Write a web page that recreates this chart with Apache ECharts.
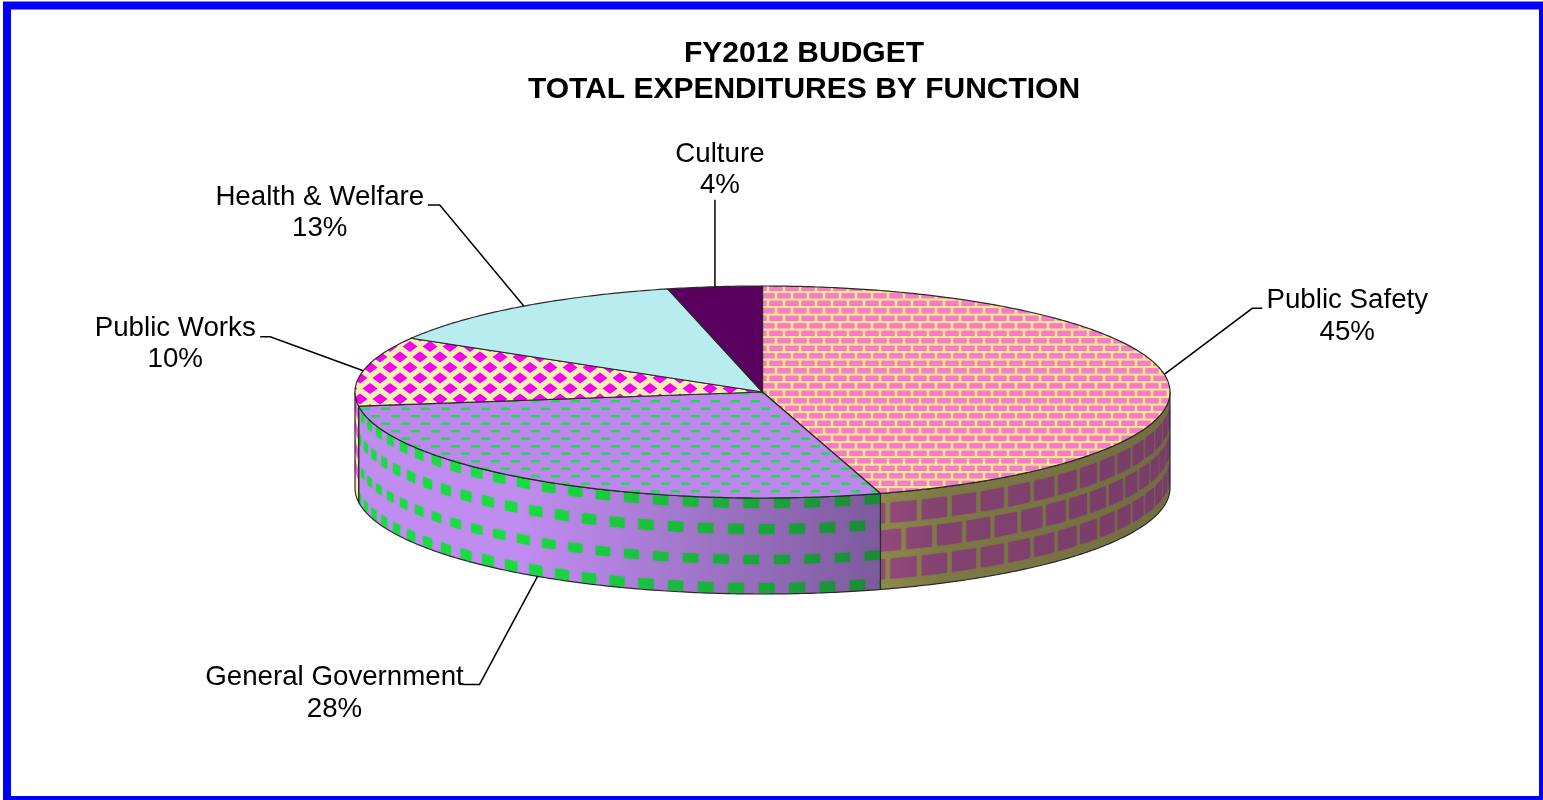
<!DOCTYPE html>
<html>
<head>
<meta charset="utf-8">
<title>FY2012 Budget</title>
<style>html,body{margin:0;padding:0;background:#fff}#chart{width:1543px;height:800px}</style>
<script src="https://cdn.jsdelivr.net/npm/echarts@6/dist/echarts.min.js"></script>
</head>
<body>
<div id="chart"></div>
<script>
// Budget shares by function, in percent, clockwise from twelve o'clock.
const categories = ['Public Safety', 'General Government', 'Public Works', 'Health & Welfare', 'Culture'];
const shares = [45, 28, 10, 13, 4];
const titleLines = ['FY2012 BUDGET', 'TOTAL EXPENDITURES BY FUNCTION'];

const FONT = '"Liberation Sans", Arial, sans-serif';
const DEG = Math.PI / 180;
const DEPTH_PX = 96;
const RIM = '#2a2a2a';

// Small repeating canvases used as pattern fills on the top face; edges are slightly soft.
function tile(w, h, back, fore, draw) {
  const c = document.createElement('canvas');
  c.width = w; c.height = h;
  const g = c.getContext('2d');
  g.fillStyle = back; g.fillRect(0, 0, w, h);
  g.filter = 'blur(0.55px)';
  g.fillStyle = fore;
  for (let ox = -w; ox <= w; ox += w) {
    for (let oy = -h; oy <= h; oy += h) draw(g, ox, oy);
  }
  return { image: c, repeat: 'repeat' };
}
const brickTile = tile(16, 15, '#FFE58C', '#F57CC8', (g, x, y) => {
  g.fillRect(x + 1.3, y + 0.6, 13.4, 5.4);
  g.fillRect(x - 6.7, y + 8.1, 13.4, 5.4);
});
const dashTile = tile(20, 15, '#BE86EE', '#18E04A', (g, x, y) => {
  g.fillRect(x + 1, y + 2.5, 9, 2.4);
  g.fillRect(x + 11, y + 10, 9, 2.4);
});
const diamondTile = tile(20, 21, '#F4F0B4', '#F600F0', (g, x, y) => {
  [[0, 0], [10, 10.5]].forEach(p => {
    g.beginPath();
    g.moveTo(x + p[0] - 7.5, y + p[1]);
    g.lineTo(x + p[0], y + p[1] - 5.5);
    g.lineTo(x + p[0] + 7.5, y + p[1]);
    g.lineTo(x + p[0], y + p[1] + 5.5);
    g.closePath(); g.fill();
  });
});

const topFills = [brickTile, dashTile, diamondTile, '#B9ECEE', '#5A005E'];
const sideBase = ['#DEE060', '#C08CF0', '#F4F0B4', '#B9ECEE', '#5A005E'];

// Cells wrapped around the rim: angular period (radians), depth span of each row, stagger.
const sideCells = {
  0: { color: '#E870B8', period: 0.082, width: 0.068, rows: [[10, 30, 0], [37, 58, 0.5], [66, 86, 0]], seamPhase: -0.012 },
  1: { color: '#18DC40', period: 0.075, width: 0.038, rows: [[0, 10, 0], [26, 36, 0.5], [57, 66, 0], [85, 95, 0.5]], seamPhase: 0.002 },
  2: { color: '#F060E0', period: 1, width: 1, rows: [[4, 14, 0], [24, 34, 0], [44, 54, 0], [64, 74, 0]], seamPhase: 0 }
};

// Offsets of the leader elbow, leader end and label block from each slice's rim anchor.
const labelLayout = [
  { elbow: [88, -66], end: [98, -66], text: [183, -58], nudge: 0, front: false },
  { elbow: [-58, 108], end: [-75, 108], text: [-203, 117], nudge: 3, front: true },
  { elbow: [-93, -34], end: [-103, -34], text: [-188, -27], nudge: 0, front: false },
  { elbow: [-84, -101], end: [-96, -101], text: [-204, -93], nudge: 0, front: false },
  { elbow: [0, -87], end: [0, -87], text: [5, -117], nudge: 0, front: false }
];

// The disc is drawn at a slant, so an even circle angle lands slightly off on the ellipse.
const project = deg => deg - 2 * Math.sin(2 * deg * DEG);

const total = shares.reduce((a, b) => a + b, 0);
const edges = [0];
shares.forEach(v => edges.push(edges[edges.length - 1] + v / total * 360));
const startOf = i => project(edges[i]) * DEG;
const endOf = i => project(edges[i + 1]) * DEG;

function rimPoint(api, theta, depth) {
  const p = api.coord([Math.sin(theta), Math.cos(theta)]);
  return [p[0], p[1] + depth];
}
function rimArc(api, t0, t1, depth) {
  const n = Math.max(2, Math.ceil(Math.abs(t1 - t0) / (0.6 * DEG)));
  const out = [];
  for (let k = 0; k <= n; k++) out.push(rimPoint(api, t0 + (t1 - t0) * k / n, depth));
  return out;
}
function band(api, t0, t1, d0, d1) {
  return rimArc(api, t0, t1, d0).concat(rimArc(api, t0, t1, d1).reverse());
}

// Rim of one slice: base, wrapped cells, shading towards the right, outline.
function renderSide(params, api) {
  const i = params.dataIndex;
  const t0 = Math.max(startOf(i), 90 * DEG);
  const t1 = Math.min(endOf(i), 270 * DEG);
  if (t1 <= t0) return { type: 'group', children: [] };
  const children = [{
    type: 'polygon', shape: { points: band(api, t0, t1, 0, DEPTH_PX) },
    style: { fill: sideBase[i] }
  }];
  const cells = sideCells[i];
  if (cells) {
    const seam = endOf(0);
    cells.rows.forEach(row => {
      const shift = row[2] * cells.period + cells.seamPhase;
      for (let k = -40; k <= 40; k++) {
        const a = Math.max(seam + shift + k * cells.period, t0);
        const b = Math.min(seam + shift + k * cells.period + cells.width, t1);
        if (b - a > 0.002) {
          children.push({
            type: 'polygon', shape: { points: band(api, a, b, row[0], row[1]) },
            style: { fill: cells.color, shadowBlur: 2, shadowColor: cells.color }
          });
        }
      }
    });
  }
  const left = api.coord([-1, 0])[0];
  const right = api.coord([1, 0])[0];
  children.push({
    type: 'polygon', shape: { points: band(api, t0, t1, 0, DEPTH_PX) },
    style: {
      fill: new echarts.graphic.LinearGradient(left, 0, right, 0, [
        { offset: 0, color: 'rgba(30,20,40,0)' },
        { offset: 0.2, color: 'rgba(30,20,40,0)' },
        { offset: 0.325, color: 'rgba(30,20,40,0.1)' },
        { offset: 0.485, color: 'rgba(30,20,40,0.26)' },
        { offset: 0.645, color: 'rgba(30,20,40,0.42)' },
        { offset: 0.72, color: 'rgba(30,20,40,0.5)' },
        { offset: 1, color: 'rgba(30,20,40,0.56)' }
      ], true)
    }
  });
  children.push({
    type: 'polygon', shape: { points: band(api, t0, t1, 0, DEPTH_PX) },
    style: { fill: 'none', stroke: RIM, lineWidth: 1.2 }
  });
  return { type: 'group', children };
}

// Top face of one slice.
function renderTop(params, api) {
  const i = params.dataIndex;
  const pts = [api.coord([0, 0])].concat(rimArc(api, startOf(i), endOf(i), 0));
  return {
    type: 'polygon', shape: { points: pts },
    style: { fill: topFills[i], stroke: RIM, lineWidth: 1.2 }
  };
}

// Leader line and two-line label of one slice.
function renderLabel(params, api) {
  const i = params.dataIndex;
  const l = labelLayout[i];
  const mid = project((edges[i] + edges[i + 1]) / 2 + l.nudge) * DEG;
  const a = rimPoint(api, mid, l.front ? DEPTH_PX : 0);
  const at = o => [a[0] + o[0], a[1] + o[1]];
  return {
    type: 'group',
    children: [{
      type: 'polyline',
      shape: { points: [a, at(l.elbow), at(l.end)] },
      style: { fill: 'none', stroke: '#000', lineWidth: 1.5 }
    }, {
      type: 'text',
      x: at(l.text)[0], y: at(l.text)[1],
      style: {
        text: categories[i] + '\n' + shares[i] + '%',
        fontFamily: FONT, fontSize: 27.7, lineHeight: 31.5,
        fill: '#000', align: 'center', verticalAlign: 'middle'
      }
    }]
  };
}

const sliceData = shares.map((v, i) => ({ name: categories[i], value: v }));
const chart = echarts.init(document.getElementById('chart'), null, { renderer: 'canvas' });
chart.setOption({
  animation: false,
  backgroundColor: '#fff',
  title: {
    text: titleLines.join('\n'),
    left: 799, top: 31, textAlign: 'center',
    textStyle: { fontFamily: FONT, fontSize: 30, fontWeight: 'bold', color: '#000', lineHeight: 36 }
  },
  grid: { left: 355, top: 286, width: 815, height: 212 },
  xAxis: { type: 'value', min: -1, max: 1, show: false },
  yAxis: { type: 'value', min: -1, max: 1, show: false },
  graphic: [{
    type: 'rect', silent: true, z: 100,
    shape: { x: 7, y: 5.5, width: 1536, height: 794.5 },
    style: { fill: 'none', stroke: '#0000FF', lineWidth: 8 }
  }],
  series: [
    { type: 'custom', clip: false, z: 2, renderItem: renderSide, data: sliceData, silent: true },
    { type: 'custom', clip: false, z: 3, renderItem: renderTop, data: sliceData, silent: true },
    { type: 'custom', clip: false, z: 4, renderItem: renderLabel, data: sliceData, silent: true }
  ]
});
</script>
</body>
</html>
